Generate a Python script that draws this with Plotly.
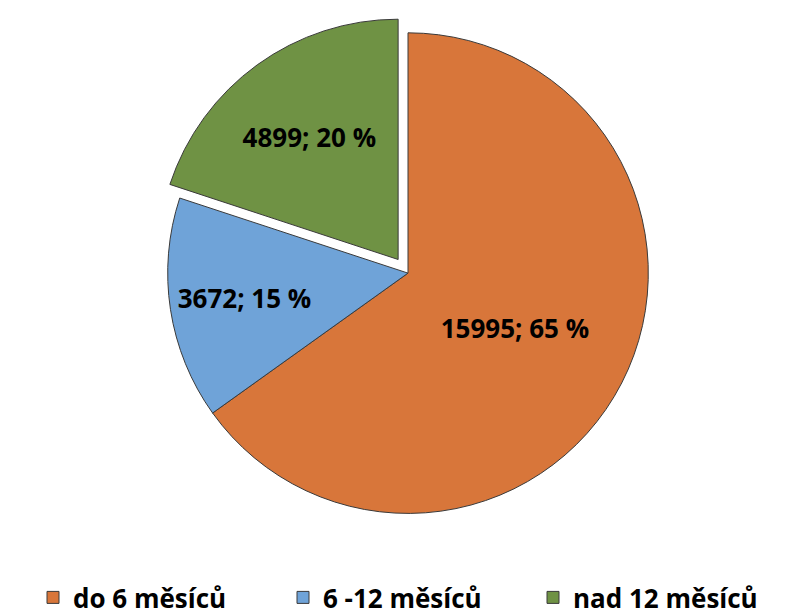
import plotly.graph_objects as go

categories = ["do 6 měsíců", "6 -12 měsíců", "nad 12 měsíců"]
values = [15995, 3672, 4899]
colors = ["#D8763A", "#6FA3D8", "#6F9244"]
pulls = [0, 0, 0.07]

total = sum(values)
pct_text = [f"{round(v / total * 100)}" for v in values]

fig = go.Figure(
    go.Pie(
        labels=categories,
        values=values,
        text=pct_text,
        texttemplate="%{value:d}; %{text} %",
        textposition="inside",
        insidetextorientation="horizontal",
        sort=False,
        direction="clockwise",
        rotation=0,
        pull=pulls,
        marker=dict(colors=colors, line=dict(color="#3a3a3a", width=1)),
        textfont=dict(family="Open Sans", size=26, color="black", weight="bold"),
        domain=dict(x=[0, 1], y=[0.15, 1]),
        showlegend=True,
        hoverinfo="label+value+percent",
    )
)

fig.update_layout(
    width=800,
    height=615,
    paper_bgcolor="white",
    plot_bgcolor="white",
    margin=dict(l=0, r=0, t=8, b=2),
    legend=dict(
        orientation="h",
        x=0.5,
        xanchor="center",
        y=0,
        yanchor="bottom",
        font=dict(family="Open Sans", size=26, color="black", weight="bold"),
        itemwidth=30,
        traceorder="normal",
        entrywidth=205,
    ),
)

fig.write_html("out.html")
